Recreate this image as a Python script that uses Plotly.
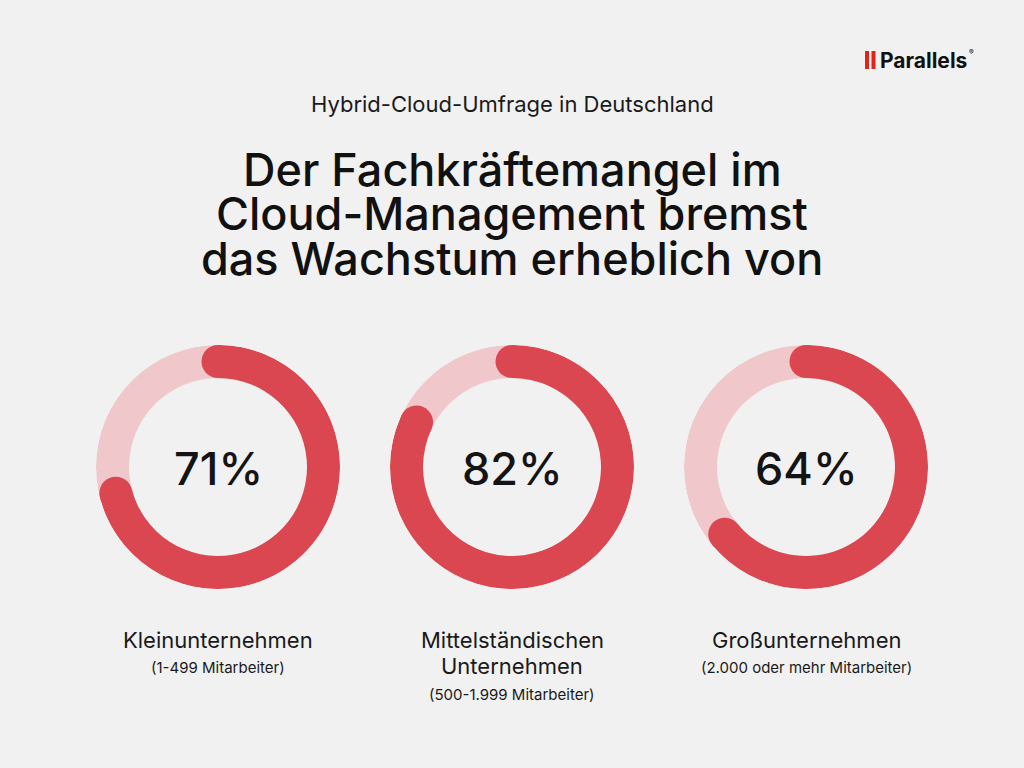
import plotly.graph_objects as go

# ---- data ----
values = [71, 82, 64]
value_labels = ["71%", "82%", "64%"]
group_names = [["Kleinunternehmen"], ["Mittelständischen", "Unternehmen"], ["Großunternehmen"]]
group_sizes = ["(1-499 Mitarbeiter)", "(500-1.999 Mitarbeiter)", "(2.000 oder mehr Mitarbeiter)"]

kicker = "Hybrid-Cloud-Umfrage in Deutschland"
title_lines = ["Der Fachkräftemangel im", "Cloud-Management bremst", "das Wachstum erheblich von"]

# ---- style / layout ----
W, H = 1024, 768
BG = "#f1f1f1"
FILL = "#da4750"
REST = "#f0c8cb"
FONT = "Inter"
centers_x = [218, 512, 806]
center_y = 467
R = 122
THICK = 33
INNER = R - THICK

fig = go.Figure()
annotations = []

for i, v in enumerate(values):
    pid = "polar" if i == 0 else f"polar{i+1}"
    cx = centers_x[i]
    # background ring
    fig.add_trace(go.Barpolar(
        r=[THICK], base=[INNER], theta=[180], width=[360],
        marker=dict(color=REST, line=dict(width=0)),
        subplot=pid, hoverinfo="skip", showlegend=False))
    # value arc
    span = v * 3.6
    fig.add_trace(go.Barpolar(
        r=[THICK], base=[INNER], theta=[span / 2], width=[span],
        marker=dict(color=FILL, line=dict(width=0)),
        subplot=pid, hoverinfo="skip", showlegend=False))
    # round caps
    fig.add_trace(go.Scatterpolar(
        r=[INNER + THICK / 2] * 2, theta=[0, span], mode="markers",
        marker=dict(color=FILL, size=THICK, line=dict(width=0)),
        subplot=pid, hoverinfo="skip", showlegend=False))
    fig.update_layout({pid: dict(
        domain=dict(x=[(cx - R) / W, (cx + R) / W],
                    y=[1 - (center_y + R) / H, 1 - (center_y - R) / H]),
        bgcolor="rgba(0,0,0,0)",
        bargap=0,
        radialaxis=dict(visible=False, range=[0, R], showgrid=False),
        angularaxis=dict(visible=False, rotation=90, direction="clockwise",
                         showgrid=False, showline=False, ticks=""),
    )})
    # percentage text
    annotations.append(dict(x=cx / W, y=1 - (center_y + 1) / H, xref="paper", yref="paper",
                            text=value_labels[i], showarrow=False, xanchor="center", yanchor="middle",
                            font=dict(family=FONT, size=45, color="#141414", weight=500)))
    # category labels
    y = 640
    for line in group_names[i]:
        annotations.append(dict(x=cx / W, y=1 - y / H, xref="paper", yref="paper",
                                text=line, showarrow=False, xanchor="center", yanchor="middle",
                                font=dict(family=FONT, size=22, color="#1a1a1a")))
        y += 26
    ys = 667 if len(group_names[i]) == 1 else 694
    annotations.append(dict(x=cx / W, y=1 - ys / H, xref="paper", yref="paper",
                            text=group_sizes[i], showarrow=False, xanchor="center", yanchor="middle",
                            font=dict(family=FONT, size=15, color="#1a1a1a")))

# kicker and title
annotations.append(dict(x=0.5, y=1 - 104 / H, xref="paper", yref="paper", text=kicker,
                        showarrow=False, xanchor="center", yanchor="middle",
                        font=dict(family=FONT, size=22, color="#1a1a1a")))
for k, t in enumerate(title_lines):
    annotations.append(dict(x=0.5, y=1 - (170 + 44 * k) / H, xref="paper", yref="paper", text=t,
                            showarrow=False, xanchor="center", yanchor="middle",
                            font=dict(family=FONT, size=45, color="#111111", weight=500)))

# logo
annotations.append(dict(x=878 / W, y=1 - 60 / H, xref="paper", yref="paper",
                        text="<b>Parallels</b>", showarrow=False, xanchor="left", yanchor="middle",
                        font=dict(family=FONT, size=21, color="#111111")))
annotations.append(dict(x=967 / W, y=1 - 53 / H, xref="paper", yref="paper",
                        text="®", showarrow=False, xanchor="left", yanchor="middle",
                        font=dict(family=FONT, size=7, color="#111111")))
shapes = [
    dict(type="rect", xref="paper", yref="paper", x0=865 / W, x1=869 / W, y0=1 - 69 / H, y1=1 - 51 / H,
         fillcolor="#e2231a", line=dict(width=0)),
    dict(type="rect", xref="paper", yref="paper", x0=871.5 / W, x1=875.5 / W, y0=1 - 69 / H, y1=1 - 51 / H,
         fillcolor="#e2231a", line=dict(width=0)),
]

fig.update_layout(width=W, height=H, margin=dict(l=0, r=0, t=0, b=0),
                  paper_bgcolor=BG, plot_bgcolor=BG,
                  annotations=annotations, shapes=shapes, showlegend=False)

fig.write_html("out.html", config={"displayModeBar": False},
               post_script="document.body.style.margin='0';")
